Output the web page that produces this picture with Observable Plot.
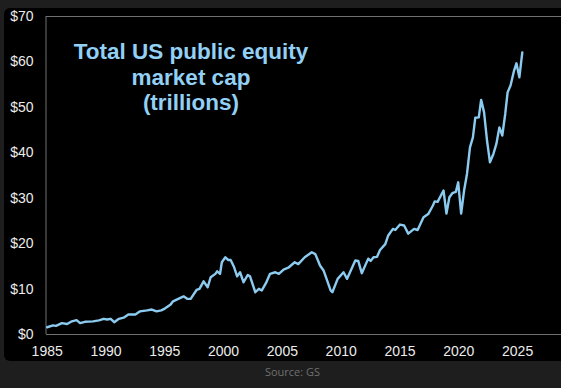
<!DOCTYPE html>
<html>
<head>
<meta charset="utf-8">
<script src="https://cdn.jsdelivr.net/npm/d3@7"></script>
<script src="https://cdn.jsdelivr.net/npm/@observablehq/plot@0.6"></script>
<style>
  html, body { margin: 0; padding: 0; background: #1e1e1e; overflow: hidden; }
  #wrap { position: relative; width: 561px; height: 388px; background: #1e1e1e; overflow: hidden; }
  #panel { position: absolute; left: 4px; top: 8px; width: 600px; height: 353px; background: #000; border-radius: 6px; }
  #chart { position: absolute; left: 0; top: 0; }
  #title { position: absolute; left: 41px; top: 39px; width: 300px; text-align: center;
           font-family: "Liberation Sans", Arial, sans-serif; font-weight: bold; font-size: 22.5px;
           line-height: 25.5px; color: #92d0f5; }
  #source { position: absolute; left: 0; width: 585px; top: 364px; text-align: center;
            font-family: "Open Sans", "Noto Sans", sans-serif; font-size: 11px; color: #707070; }
</style>
</head>
<body>
<div id="wrap">
  <div id="panel"></div>
  <div id="chart"></div>
  <div id="title">Total US public equity<br>market cap<br>(trillions)</div>
  <div id="source">Source: GS</div>
</div>
<script>
// Decimal years and market cap (US$ trillions)
const years = [
  1985.0, 1985.5, 1985.75, 1986.25, 1986.7, 1987.1, 1987.5, 1987.8, 1988.2, 1988.9,
  1989.4, 1989.8, 1990.1, 1990.4, 1990.7, 1991.1, 1991.5, 1991.9, 1992.5, 1992.9,
  1993.5, 1993.9, 1994.3, 1994.7, 1995.0, 1995.5, 1995.7, 1996.6, 1996.9, 1997.2,
  1997.7, 1997.95, 1998.3, 1998.65, 1998.9, 1999.3, 1999.45, 1999.7, 1999.85, 2000.15,
  2000.4, 2000.6, 2000.9, 2001.15, 2001.4, 2001.7, 2002.05, 2002.25, 2002.7, 2003.0,
  2003.25, 2003.6, 2003.95, 2004.4, 2004.7, 2005.1, 2005.5, 2006.05, 2006.35, 2006.9,
  2007.5, 2007.8, 2008.2, 2008.5, 2008.8, 2009.1, 2009.25, 2009.7, 2010.2, 2010.5,
  2011.2, 2011.45, 2011.75, 2012.3, 2012.5, 2012.75, 2013.05, 2013.3, 2013.75, 2014.0,
  2014.4, 2014.6, 2015.0, 2015.35, 2015.7, 2016.2, 2016.5, 2017.0, 2017.4, 2017.8,
  2017.95, 2018.2, 2018.7, 2018.95, 2019.2, 2019.45, 2019.75, 2019.95, 2020.2, 2020.45,
  2020.7, 2020.95, 2021.2, 2021.4, 2021.7, 2021.9, 2022.15, 2022.4, 2022.65, 2022.95,
  2023.2, 2023.45, 2023.7, 2023.95, 2024.15, 2024.4, 2024.7, 2024.9, 2025.15, 2025.4
];
const marketCap = [
  1.6, 2.0, 1.9, 2.5, 2.3, 2.9, 3.15, 2.5, 2.8, 2.9,
  3.1, 3.45, 3.3, 3.45, 2.7, 3.45, 3.7, 4.4, 4.4, 5.1,
  5.3, 5.5, 5.1, 5.3, 5.7, 6.6, 7.3, 8.4, 7.85, 7.85,
  9.8, 10.05, 11.7, 10.4, 12.6, 13.35, 13.9, 13.35, 15.9, 17.0,
  16.4, 16.4, 14.8, 12.8, 13.7, 11.5, 13.1, 12.8, 9.3, 10.05,
  9.7, 11.3, 13.35, 13.7, 13.35, 14.3, 14.7, 15.9, 15.5, 17.0,
  18.1, 17.7, 15.2, 14.1, 11.9, 9.7, 9.3, 12.25, 13.7, 12.25,
  16.3, 16.2, 13.5, 16.7, 16.2, 17.0, 17.1, 18.6, 19.9, 21.8,
  23.25, 23.0, 24.2, 24.0, 22.2, 23.25, 23.0, 25.8, 26.5, 28.4,
  29.3, 29.2, 31.7, 26.6, 30.2, 31.1, 31.4, 33.5, 26.6, 31.7,
  35.4, 41.2, 43.4, 47.7, 47.8, 51.65, 48.9, 42.7, 37.9, 39.8,
  42.0, 45.6, 43.8, 48.6, 53.3, 54.8, 58.1, 59.7, 56.6, 62.1
];
const xTicks = [1985, 1990, 1995, 2000, 2005, 2010, 2015, 2020, 2025, 2030];
const yTicks = [0, 10, 20, 30, 40, 50, 60, 70];

const data = years.map((y, i) => ({year: y, value: marketCap[i]}));

const chart = Plot.plot({
  width: 561,
  height: 388,
  marginLeft: 46,
  marginRight: 0,
  marginTop: 16,
  marginBottom: 54,
  style: {background: "transparent", fontFamily: "'Liberation Sans', Arial, sans-serif", fontSize: "14px", color: "#e8e8e8"},
  x: {domain: [1984.9, 2030], range: [45.5, 575.9]},
  y: {domain: [0, 70]},
  marks: [
    Plot.ruleY([0, 70], {stroke: "#707070", strokeWidth: 1}),
    Plot.ruleX([1984.9], {stroke: "#707070", strokeWidth: 1}),
    Plot.axisX({ticks: xTicks, tickSize: 0, tickPadding: 12, tickFormat: d => String(d), fill: "#ececec", fontSize: 14, label: null}),
    Plot.axisY({ticks: yTicks, tickSize: 0, tickPadding: 13, tickFormat: d => "$" + d, fill: "#ececec", fontSize: 14, label: null}),
    Plot.line(data, {x: "year", y: "value", stroke: "#8ccbf0", strokeWidth: 2.4, strokeLinejoin: "round", curve: "linear"})
  ]
});
document.getElementById("chart").appendChild(chart);
</script>
</body>
</html>
